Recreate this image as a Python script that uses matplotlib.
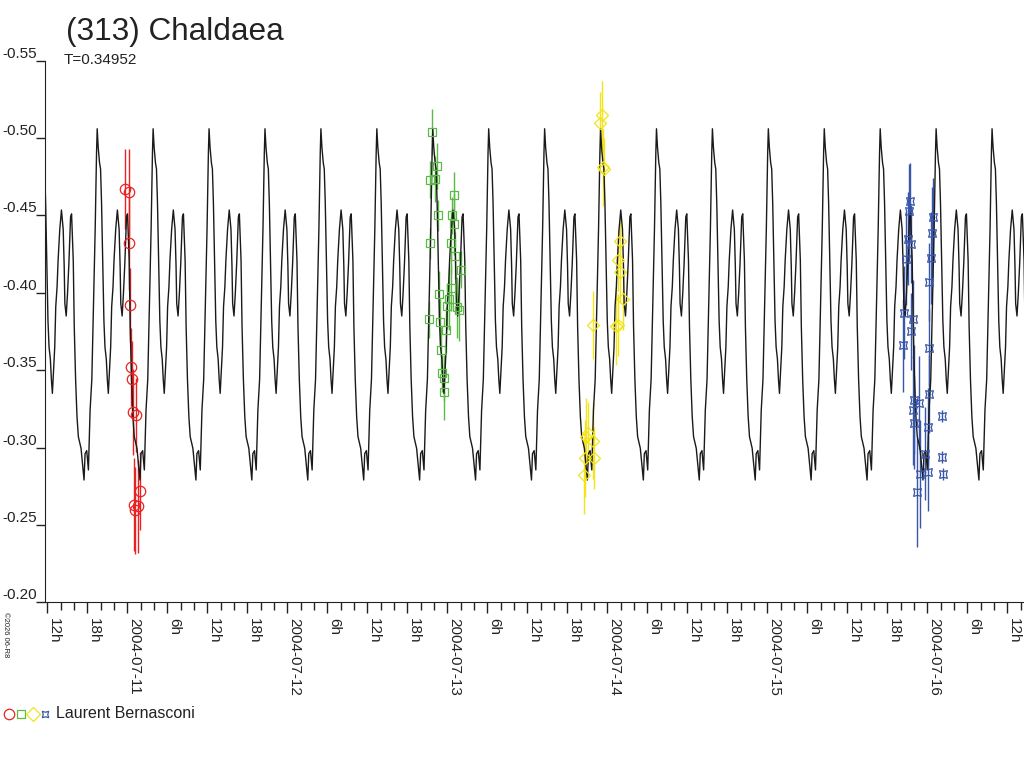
import datetime
import numpy as np
import matplotlib
matplotlib.use('Agg')
import matplotlib.pyplot as plt
import matplotlib.dates as mdates
from matplotlib.lines import Line2D
from matplotlib.ticker import FuncFormatter

# Period (days) and epoch of a maximum (days since 2004-07-11 0h UT)
period = 0.34952
epoch = 0.8606

# One cycle of the model lightcurve
phase_curve = [0.000, 0.018, 0.042, 0.060, 0.078, 0.096, 0.120, 0.139, 0.163, 0.181,
               0.199, 0.217, 0.241, 0.259, 0.283, 0.301, 0.331, 0.361, 0.392, 0.410,
               0.422, 0.446, 0.470, 0.494, 0.524, 0.542, 0.572, 0.590, 0.614, 0.639,
               0.663, 0.711, 0.741, 0.765, 0.783, 0.813, 0.843, 0.873, 0.904, 0.934,
               0.964, 0.988]
mag_curve = [-0.506, -0.494, -0.484, -0.480, -0.458, -0.426, -0.382, -0.365, -0.357, -0.344,
             -0.335, -0.348, -0.365, -0.391, -0.404, -0.421, -0.441, -0.4535, -0.441, -0.417,
             -0.393, -0.385, -0.400, -0.419, -0.449, -0.451, -0.421, -0.378, -0.344, -0.320,
             -0.307, -0.2995, -0.288, -0.279, -0.296, -0.298, -0.2855, -0.324, -0.344, -0.391,
             -0.441, -0.490]

# Observations (days since 2004-07-11 0h UT, relative magnitude, error)
red_t = [-0.0125, 0.0088, 0.0088, 0.015, 0.021, 0.029, 0.034, 0.056, 0.079, 0.042, 0.067, 0.050]
red_mag = [-0.467, -0.465, -0.432, -0.392, -0.352, -0.344, -0.323, -0.321, -0.272, -0.263, -0.262, -0.2595]
red_err = [0.026, 0.028, 0.030, 0.024, 0.025, 0.025, 0.028, 0.024, 0.025, 0.030, 0.030, 0.028]

green_t = [1.906, 1.9375, 1.894, 1.923, 1.940, 2.044, 2.0275, 2.044, 1.892, 2.023, 2.048, 2.086, 1.948,
           2.023, 2.011, 2.000, 2.061, 2.073, 1.886, 1.954, 1.992, 1.961, 1.965, 1.981, 1.979]
green_mag = [-0.504, -0.482, -0.473, -0.4735, -0.450, -0.463, -0.450, -0.4445, -0.432, -0.432, -0.424,
             -0.415, -0.399, -0.403, -0.396, -0.3915, -0.3905, -0.389, -0.383, -0.381, -0.376, -0.363,
             -0.348, -0.345, -0.336]
green_err = [0.015, 0.015, 0.012, 0.015, 0.010, 0.015, 0.012, 0.020, 0.010, 0.020, 0.015, 0.012, 0.015,
             0.015, 0.020, 0.015, 0.020, 0.020, 0.012, 0.015, 0.015, 0.015, 0.012, 0.015, 0.018]

yellow_t = [2.965, 2.954, 2.975, 2.981, 3.079, 3.069, 3.079, 3.100, 2.912, 3.0525, 3.069, 2.8775,
            2.867, 2.910, 2.861, 2.914, 2.854]
yellow_mag = [-0.515, -0.510, -0.481, -0.480, -0.4335, -0.421, -0.4135, -0.396, -0.379, -0.3785, -0.379,
              -0.3095, -0.307, -0.3045, -0.293, -0.2935, -0.282]
yellow_err = [0.022, 0.020, 0.025, 0.020, 0.015, 0.020, 0.020, 0.020, 0.022, 0.025, 0.020, 0.020,
              0.025, 0.025, 0.025, 0.020, 0.025]

blue_t = [4.892, 4.886, 5.034, 4.8775, 4.896, 5.0275, 5.021, 4.867, 5.0125, 4.856, 4.909, 4.898, 4.850,
          5.011, 5.009, 4.917, 4.948, 4.9125, 4.919, 5.006, 5.094, 4.986, 5.094, 4.954, 5.0025, 5.100, 4.9375]
blue_mag = [-0.459, -0.453, -0.449, -0.435, -0.4315, -0.4385, -0.4225, -0.422, -0.407, -0.387, -0.383,
            -0.375, -0.366, -0.3645, -0.3345, -0.331, -0.329, -0.324, -0.316, -0.3135, -0.3205, -0.296,
            -0.294, -0.283, -0.284, -0.283, -0.271]
blue_err = [0.025, 0.030, 0.025, 0.030, 0.025, 0.030, 0.030, 0.030, 0.025, 0.030, 0.025, 0.025, 0.030,
            0.025, 0.025, 0.035, 0.030, 0.035, 0.030, 0.025, 0.004, 0.030, 0.004, 0.035, 0.025, 0.004, 0.035]

observer = 'Laurent Bernasconi'
y_ticks = [-0.55, -0.50, -0.45, -0.40, -0.35, -0.30, -0.25, -0.20]

plt.rcParams['font.family'] = ['Liberation Sans', 'DejaVu Sans']
text_color = '#222222'

day0 = mdates.date2num(datetime.datetime(2004, 7, 11))
x_min = day0 - 0.5125
x_max = day0 + 5.604

fig = plt.figure(figsize=(10.24, 7.68), dpi=100)
ax = fig.add_axes([0.0442, 0.2158, 0.9558, 0.7052])

# Model curve: the read cycle repeated every period
n_first = int(np.floor((x_min - day0 - epoch) / period)) - 1
n_last = int(np.ceil((x_max - day0 - epoch) / period)) + 1
curve_t = []
curve_mag = []
for k in range(n_first, n_last + 1):
    for ph, m in zip(phase_curve, mag_curve):
        curve_t.append(day0 + epoch + (k + ph) * period)
        curve_mag.append(m)
ax.plot(curve_t, curve_mag, color='#1a1a1a', lw=1.0, zorder=2)

# Observations with error bars
series = [
    (red_t, red_mag, red_err, '#e82222', 'o', 7.5),
    (green_t, green_mag, green_err, '#5cb946', 's', 6),
    (yellow_t, yellow_mag, yellow_err, '#f2e418', 'D', 6),
    (blue_t, blue_mag, blue_err, '#3a56a8', (4, 1, 45), 8),
]
for t, m, e, color, marker, size in series:
    tt = [day0 + v for v in t]
    ax.vlines(tt, np.array(m) - np.array(e), np.array(m) + np.array(e), color=color, lw=1.0, zorder=1)
    ax.plot(tt, m, ls='none', marker=marker, ms=size, mfc='none', mec=color, mew=0.9, zorder=3)

# Axes
ax.set_xlim(x_min, x_max)
ax.set_ylim(-0.20, -0.55)
ax.spines['top'].set_visible(False)
ax.spines['right'].set_visible(False)
ax.spines['left'].set_color(text_color)
ax.spines['bottom'].set_color(text_color)

ax.set_yticks(y_ticks)
ax.set_yticklabels(['%.2f' % v for v in y_ticks])
ax.tick_params(axis='y', direction='out', length=6.2, width=1, pad=0, colors=text_color, labelsize=11)
for label in ax.get_yticklabels():
    label.set_verticalalignment('bottom')

def hour_label(x, pos):
    d = mdates.num2date(x)
    if d.hour == 0:
        return d.strftime('%Y-%m-%d')
    return '%dh' % d.hour

ax.xaxis.set_major_locator(mdates.HourLocator(byhour=[0, 6, 12, 18]))
ax.xaxis.set_minor_locator(mdates.HourLocator(byhour=range(0, 24, 2)))
ax.xaxis.set_major_formatter(FuncFormatter(hour_label))
ax.tick_params(axis='x', which='major', direction='out', length=8, width=1, pad=3,
               colors=text_color, labelsize=11)
ax.tick_params(axis='x', which='minor', direction='out', length=6, width=1, colors=text_color)
for label in ax.get_xticklabels():
    label.set_rotation(270)
    label.set_horizontalalignment('left')
    label.set_verticalalignment('top')

# Title and period
fig.text(0.0645, 0.948, '(313) Chaldaea', fontsize=22.7, color=text_color, va='baseline')
fig.text(0.0625, 0.9167, 'T=0.34952', fontsize=11, color=text_color, va='baseline')

# Small credit line
fig.text(0.002, 1 - 612 / 768, '\u00a92026 06-R8', fontsize=5.5, rotation=270,
         color=text_color, ha='left', va='top')

# Observer legend
legend_y = 1 - 713.5 / 768
legend_sizes = [7.5, 5.5, 7.5, 6.5]
for x_px, s, size in zip([9.3, 21.3, 33.3, 44.7], series, legend_sizes):
    fig.add_artist(Line2D([x_px / 1024], [legend_y], transform=fig.transFigure, ls='none',
                          marker=s[4], ms=size, mfc='none', mec=s[3], mew=0.9))
fig.text(56 / 1024, legend_y, observer, fontsize=11.5, color=text_color, va='center')

fig.savefig('out.png', dpi=100)
